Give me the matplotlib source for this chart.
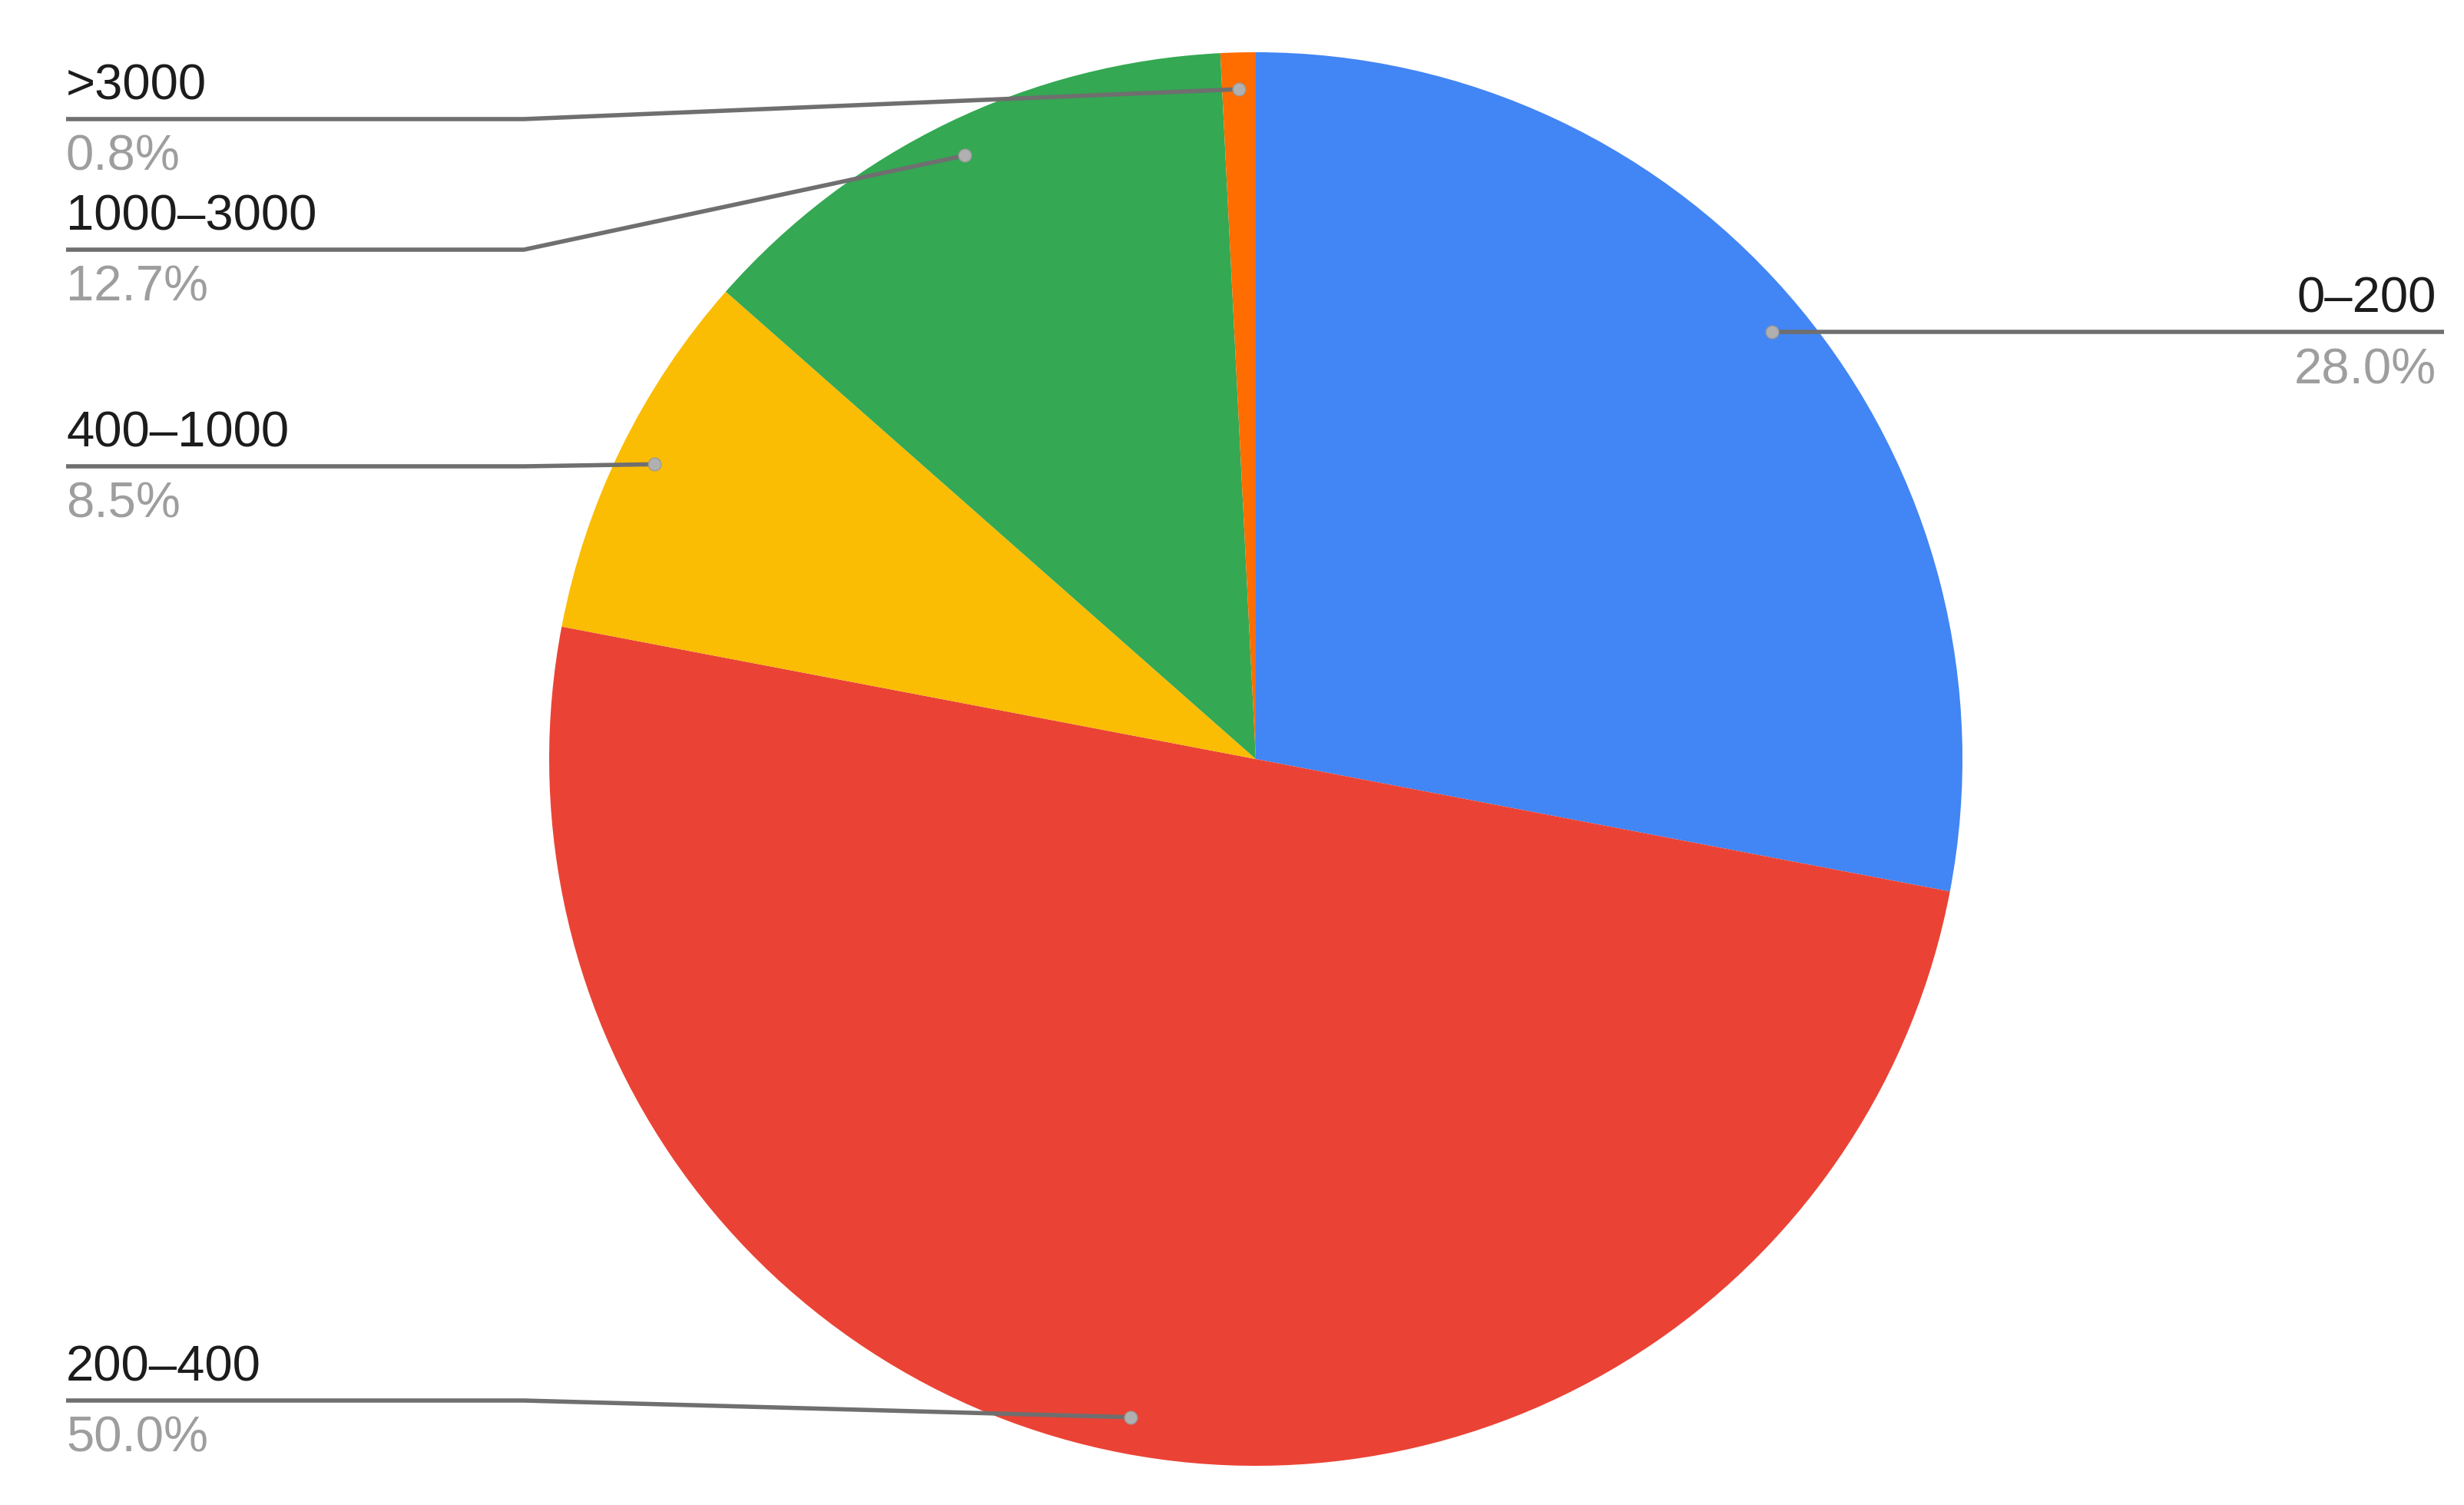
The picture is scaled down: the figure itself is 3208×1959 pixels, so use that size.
import matplotlib.pyplot as plt
import numpy as np

plt.rcParams["font.family"] = ["Liberation Sans", "DejaVu Sans"]

labels = ["0–200", "200–400", "400–1000", "1000–3000", ">3000"]
shares = [28.0, 50.0, 8.5, 12.7, 0.8]
colors = ["#4285F4", "#EA4335", "#FBBC04", "#34A853", "#FF6D01"]

# canvas in pixels (y measured from top of image)
W, H = 3208, 1959
CX, CY, R = 1635, 988, 920
# y of each label's leader line, pixels from top (None = level with the dot)
leader_y = {"0–200": None, "200–400": 1823, "400–1000": 607, "1000–3000": 325, ">3000": 155}

fig = plt.figure(figsize=(W / 100, H / 100), dpi=100)
ax = fig.add_axes([0, 0, 1, 1])

wedges, _ = ax.pie(shares, colors=colors, startangle=90, counterclock=False,
                   center=(CX, H - CY), radius=R, wedgeprops=dict(linewidth=0))
ax.set_xlim(0, W)
ax.set_ylim(0, H)
ax.set_aspect("equal")
ax.axis("off")

line_c = "#6f6f6f"
for w, lab, val in zip(wedges, labels, shares):
    mid = np.deg2rad((w.theta1 + w.theta2) / 2)
    dx = CX + 0.948 * R * np.cos(mid)
    dy = (H - CY) + 0.948 * R * np.sin(mid)
    ly = dy if leader_y[lab] is None else H - leader_y[lab]
    if dx < CX:
        xs = [86, 682, dx]
        tx, ha = 86, "left"
    else:
        xs = [3182, 2600, dx]
        tx, ha = 3172, "right"
    ax.plot(xs, [ly, ly, dy], color=line_c, linewidth=4.0, solid_capstyle="butt", zorder=3)
    ax.plot([dx], [dy], marker="o", markersize=12, color="#b0b0b0",
            markeredgecolor="#9a9a9a", markeredgewidth=1, zorder=4)
    ax.text(tx, ly + 26, lab, ha=ha, va="baseline", fontsize=47, color="#1c1c1c")
    ax.text(tx, ly - 67, f"{val:.1f}%", ha=ha, va="baseline", fontsize=47, color="#9e9e9e")

fig.savefig("out.png", dpi=100, facecolor="white")
